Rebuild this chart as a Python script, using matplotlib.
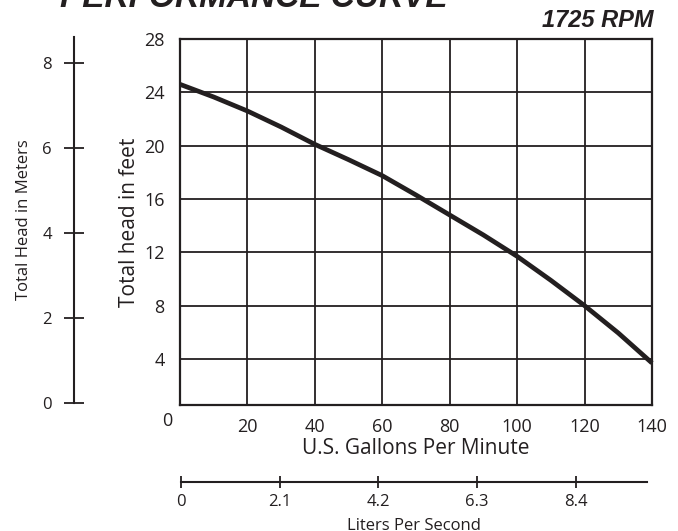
import matplotlib.pyplot as plt

# pump curve
gpm = [0, 10, 20, 30, 40, 50, 60, 70, 80, 90, 100, 110, 120, 130, 140]
head_ft = [24.6, 23.65, 22.6, 21.4, 20.1, 18.95, 17.75, 16.3, 14.8, 13.3, 11.7, 9.9, 8.0, 5.95, 3.7]

gpm_ticks = [20, 40, 60, 80, 100, 120, 140]
ft_ticks = [4, 8, 12, 16, 20, 24, 28]
meter_ticks = [0, 2, 4, 6, 8]
lps_ticks = [0, 2.1, 4.2, 6.3, 8.4]
lps_labels = ['0', '2.1', '4.2', '6.3', '8.4']

ink = '#231f20'
plt.rcParams['font.family'] = ['Open Sans', 'DejaVu Sans']

W, H = 678, 531
fig = plt.figure(figsize=(W / 100, H / 100), dpi=100)


def box(x0, y0, x1, y1):
    # pixel box -> figure fraction
    return [x0 / W, 1 - y1 / H, (x1 - x0) / W, (y1 - y0) / H]


# main chart
ax = fig.add_axes(box(180, 39, 652, 405))
ax.plot(gpm, head_ft, color=ink, lw=3.4, solid_capstyle='butt', zorder=3, clip_on=False)
ax.set_xlim(0, 140)
ax.set_ylim(0.55, 28)
ax.set_xticks(gpm_ticks)
ax.set_yticks(ft_ticks)
ax.grid(True, color=ink, lw=1.3)
ax.tick_params(length=0, labelsize=13, colors=ink)
ax.tick_params(axis='x', pad=9)
ax.tick_params(axis='y', pad=11)
for s in ax.spines.values():
    s.set_color(ink)
    s.set_linewidth(1.6)
ax.text(-0.026, -0.045, '0', transform=ax.transAxes, ha='center', va='center',
        fontsize=13, color=ink)
ax.set_xlabel('U.S. Gallons Per Minute', fontsize=15, color=ink, labelpad=2)
ax.set_ylabel('Total head in feet', fontsize=15, color=ink, labelpad=3)

# meters scale on the far left
axm = fig.add_axes(box(74, 37, 75, 403))
axm.set_ylim(0, 8.61)
axm.set_yticks(meter_ticks)
axm.set_xticks([])
for k in ['top', 'right', 'bottom']:
    axm.spines[k].set_visible(False)
axm.spines['left'].set_color(ink)
axm.spines['left'].set_linewidth(1.5)
axm.patch.set_visible(False)
axm.tick_params(axis='y', direction='inout', length=14, width=1.3, colors=ink,
                labelsize=12, pad=9)
axm.set_ylabel('Total Head in Meters', fontsize=12, color=ink, labelpad=7)

# liters per second scale at the bottom
axl = fig.add_axes(box(181, 481, 647, 482))
axl.set_xlim(0, 9.915)
axl.set_xticks(lps_ticks)
axl.set_xticklabels(lps_labels)
axl.set_yticks([])
for k in ['top', 'right', 'left']:
    axl.spines[k].set_visible(False)
axl.spines['bottom'].set_color(ink)
axl.spines['bottom'].set_linewidth(1.5)
axl.patch.set_visible(False)
axl.tick_params(axis='x', direction='inout', length=9, width=1.3, colors=ink,
                labelsize=12, pad=4)
axl.set_xlabel('Liters Per Second', fontsize=12, color=ink, labelpad=6)

# headings
fig.text(60 / W, 1 - 7 / H, 'PERFORMANCE CURVE', family='Liberation Sans',
         fontsize=24, weight='bold', style='italic', ha='left', va='baseline', color=ink)
fig.text(653 / W, 1 - 27 / H, '1725 RPM', family='Liberation Sans',
         fontsize=17, weight='bold', style='italic', ha='right', va='baseline', color=ink)

fig.savefig('out.png', dpi=100, facecolor='white')
